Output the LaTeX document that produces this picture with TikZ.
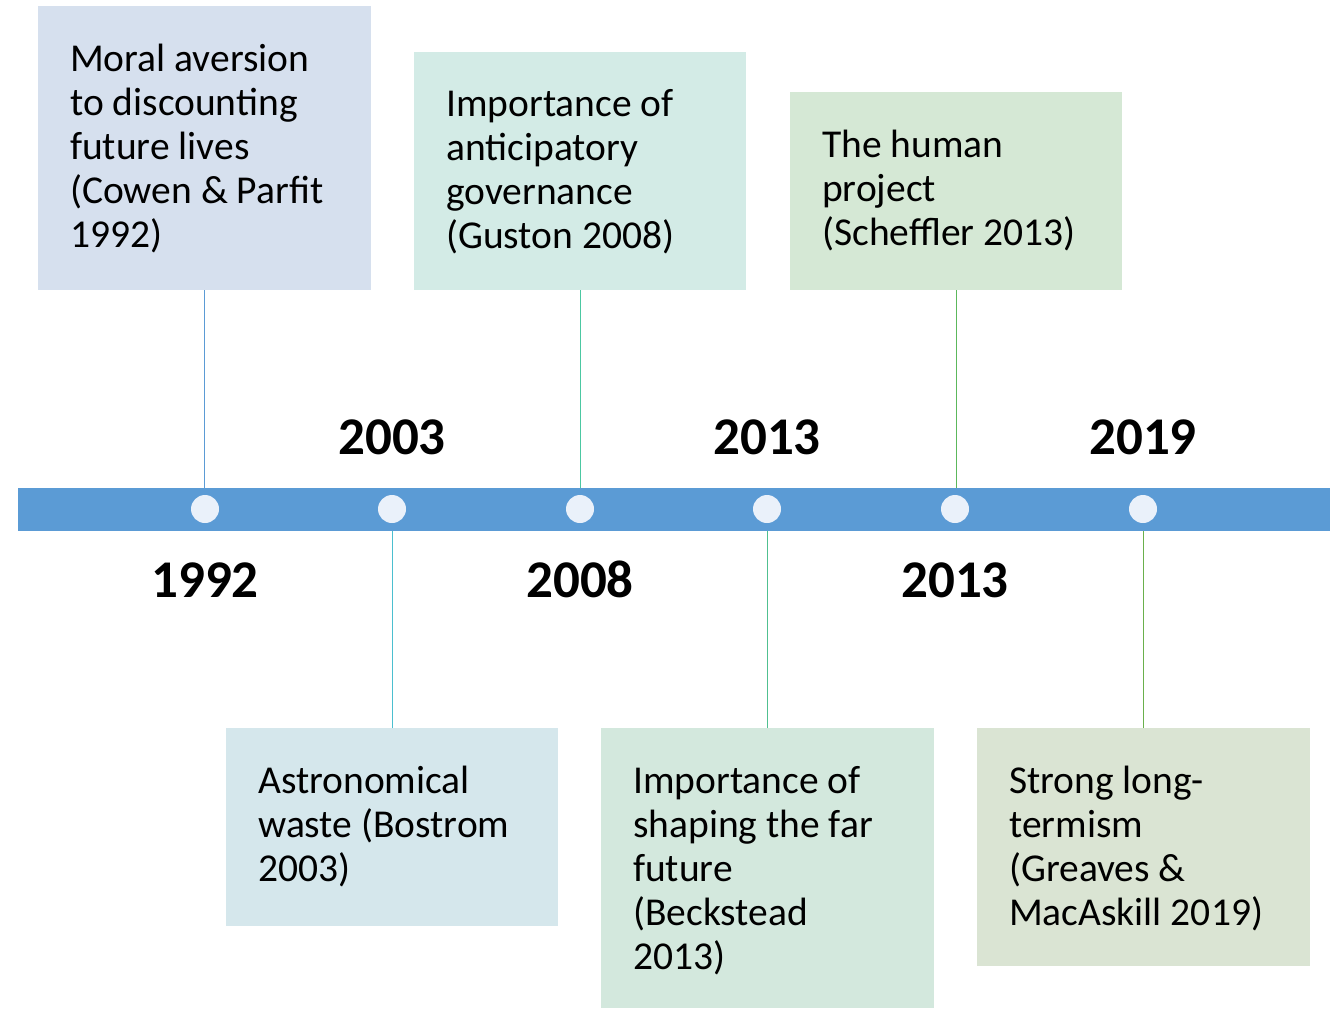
\documentclass[tikz,border=0pt]{standalone}
\usepackage{fontspec}
\setmainfont{Carlito}
\begin{document}
\begin{tikzpicture}[x=1pt,y=-1pt,
  card/.style={draw=none,rectangle,inner sep=0pt,anchor=north west},
  cardtext/.style={anchor=base west,inner sep=0pt,
    font=\fontsize{39.5}{44}\selectfont},
  year/.style={inner sep=0pt,anchor=base,font=\fontsize{53}{60}\selectfont\bfseries},
  dot/.style={circle,fill=dotfill,draw=none,minimum size=28pt,inner sep=0pt},
  tick/.style={line width=1.1pt}]
\definecolor{barblue}{HTML}{5B9BD5}
\definecolor{dotfill}{HTML}{EAF1FA}
\definecolor{fillA}{HTML}{D6E0EE}
\definecolor{fillB}{HTML}{D3EBE6}
\definecolor{fillC}{HTML}{D5E8D5}
\definecolor{fillD}{HTML}{D5E7EC}
\definecolor{fillE}{HTML}{D3E8DD}
\definecolor{fillF}{HTML}{DAE4D3}
\definecolor{lineA}{HTML}{5B9BD5}
\definecolor{lineB}{HTML}{4CC8A2}
\definecolor{lineC}{HTML}{5CB85C}
\definecolor{lineD}{HTML}{4BBFCF}
\definecolor{lineE}{HTML}{50C090}
\definecolor{lineF}{HTML}{6AB04C}
\newcommand{\cardlines}[1]{\begin{tabular}[t]{@{}l@{}}#1\end{tabular}}

\useasboundingbox (0,0) rectangle (1343,1010);

% timeline bar
\node[rectangle,fill=barblue,draw=none,inner sep=0pt,anchor=north west,
  minimum width=1312pt,minimum height=43pt] (bar) at (18,487.5) {};

% points on the bar
\foreach \i/\x in {1/205,2/392,3/580,4/767,5/955,6/1143}
  \node[dot] (p\i) at (\x,509) {};

% year labels
\node[year] (y1) at (205,597) {1992};
\node[year] (y2) at (392,454) {2003};
\node[year] (y3) at (580,597) {2008};
\node[year] (y4) at (767,454) {2013};
\node[year] (y5) at (955,597) {2013};
\node[year] (y6) at (1143,454) {2019};

% cards above the bar
\node[card,fill=fillA,minimum width=333pt,minimum height=284pt] (c1) at (38,6) {};
\node[card,fill=fillB,minimum width=332pt,minimum height=238pt] (c2) at (414,52) {};
\node[card,fill=fillC,minimum width=332pt,minimum height=198pt] (c3) at (790,92) {};
% cards below the bar
\node[card,fill=fillD,minimum width=332pt,minimum height=198pt] (c4) at (226,728) {};
\node[card,fill=fillE,minimum width=333pt,minimum height=280pt] (c5) at (601,728) {};
\node[card,fill=fillF,minimum width=333pt,minimum height=238pt] (c6) at (977,728) {};

% card texts
\node[cardtext] (t1) at (70,71) {\cardlines{Moral aversion\\to discounting\\future lives\\(Cowen \& Parfit\\1992)}};
\node[cardtext] (t2) at (446,116) {\cardlines{Importance of\\anticipatory\\governance\\(Guston 2008)}};
\node[cardtext] (t3) at (822,157) {\cardlines{The human\\project\\(Scheffler 2013)}};
\node[cardtext] (t4) at (258,793) {\cardlines{Astronomical\\waste (Bostrom\\2003)}};
\node[cardtext] (t5) at (633,793) {\cardlines{Importance of\\shaping the far\\future\\(Beckstead\\2013)}};
\node[cardtext] (t6) at (1009,793) {\cardlines{Strong long-\\termism\\(Greaves \&\\MacAskill 2019)}};

% connectors from cards to the bar
\draw[tick,lineA] (c1.south) -- (c1.south |- bar.north);
\draw[tick,lineB] (c2.south) -- (c2.south |- bar.north);
\draw[tick,lineC] (c3.south) -- (c3.south |- bar.north);
\draw[tick,lineD] (c4.north) -- (c4.north |- bar.south);
\draw[tick,lineE] (c5.north) -- (c5.north |- bar.south);
\draw[tick,lineF] (c6.north) -- (c6.north |- bar.south);
\end{tikzpicture}
\end{document}
